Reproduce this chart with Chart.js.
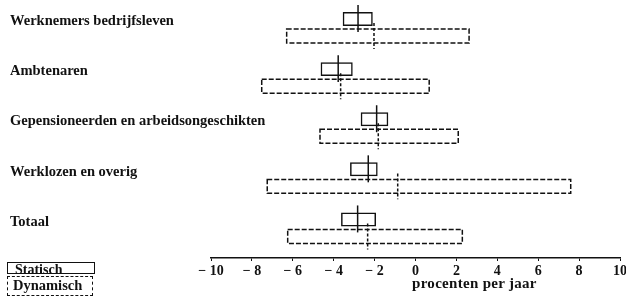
<!DOCTYPE html>
<html lang="nl">
<head>
<meta charset="UTF-8">
<title>Procenten per jaar</title>
<script src="https://cdn.jsdelivr.net/npm/chart.js@4.4.0/dist/chart.umd.min.js"></script>
<style>
  body { margin: 0; background: #fff; font-family: "Liberation Serif", serif; }
  .wrap { position: relative; width: 626px; height: 298px; }
  .box { position: absolute; box-sizing: border-box; border: 1.5px solid #111; }
  .lbl { position: absolute; font-weight: bold; font-size: 14px; line-height: 1; color: #111; white-space: nowrap; }
</style>
</head>
<body>
<div class="wrap">
  <canvas id="myChart" width="626" height="298"></canvas>
  <div class="box" style="left:7px;top:262px;width:88px;height:12px"></div>
  <div class="lbl" style="left:15px;top:263px">Statisch</div>
  <div class="box" style="left:7px;top:276px;width:86px;height:20px;border-style:dashed"></div>
  <div class="lbl" style="left:13px;top:278px;font-size:14.5px">Dynamisch</div>
  <div class="lbl" style="left:412px;top:276px;font-size:15px;letter-spacing:0.3px">procenten per jaar</div>
</div>
<script>
// categories and values (procent per jaar)
var categories = ['Werknemers bedrijfsleven', 'Ambtenaren', 'Gepensioneerden en arbeidsongeschikten', 'Werklozen en overig', 'Totaal'];
var statMin = [-3.56, -4.64, -2.68, -3.20, -3.64];
var statMax = [-2.09, -3.07, -1.33, -1.85, -1.93];
var statMed = [-2.81, -3.78, -1.90, -2.31, -2.83];
var dynMin = [-6.30, -7.52, -4.67, -7.25, -6.25];
var dynMax = [2.62, 0.67, 2.09, 7.59, 2.29];
var dynMed = [-2.03, -3.66, -1.82, -0.87, -2.34];
var xTicks = [-10, -8, -6, -4, -2, 0, 2, 4, 6, 8, 10];

var ink = '#111';
var serif = '"Liberation Serif", "Times New Roman", serif';

// dashed outlines for the dynamic bars and the median strokes
var boxPlugin = {
  id: 'boxPlugin',
  afterDatasetsDraw: function (chart) {
    var ctx = chart.ctx;
    var xs = chart.scales.x;
    var stat = chart.getDatasetMeta(0).data;
    var dyn = chart.getDatasetMeta(1).data;
    ctx.save();
    ctx.strokeStyle = ink;

    ctx.lineWidth = 1.5;
    ctx.setLineDash([5, 2]);
    dyn.forEach(function (bar) {
      var p = bar.getProps(['x', 'y', 'base', 'height'], true);
      ctx.strokeRect(Math.min(p.base, p.x), p.y - p.height / 2, Math.abs(p.x - p.base), p.height);
    });

    // dynamic medians, dashed
    ctx.setLineDash([3, 2]);
    dyn.forEach(function (bar, i) {
      var p = bar.getProps(['y', 'height'], true);
      var mx = xs.getPixelForValue(dynMed[i]);
      ctx.beginPath();
      ctx.moveTo(mx, p.y - p.height / 2 - 6);
      ctx.lineTo(mx, p.y + p.height / 2 + 6);
      ctx.stroke();
    });

    // static medians, solid
    ctx.setLineDash([]);
    ctx.lineWidth = 1.5;
    stat.forEach(function (bar, i) {
      var p = bar.getProps(['y', 'height'], true);
      var mx = xs.getPixelForValue(statMed[i]);
      ctx.beginPath();
      ctx.moveTo(mx, p.y - p.height / 2 - 7);
      ctx.lineTo(mx, p.y + p.height / 2 + 6);
      ctx.stroke();
    });
    ctx.restore();
  }
};

var ctx = document.getElementById('myChart').getContext('2d');
var chart = new Chart(ctx, {
  type: 'bar',
  data: {
    datasets: [
      {
        label: 'Statisch',
        data: categories.map(function (c, i) { return { y: i, x: [statMin[i], statMax[i]] }; }),
        backgroundColor: 'rgba(0,0,0,0)',
        borderColor: ink,
        borderWidth: 1.5,
        borderSkipped: false
      },
      {
        label: 'Dynamisch',
        data: categories.map(function (c, i) { return { y: i, x: [dynMin[i], dynMax[i]] }; }),
        backgroundColor: 'rgba(0,0,0,0)',
        borderWidth: 0
      }
    ]
  },
  options: {
    indexAxis: 'y',
    responsive: false,
    animation: false,
    categoryPercentage: 0.68,
    barPercentage: 0.82,
    layout: { padding: { left: 10, right: 6, top: 0, bottom: 0 } },
    plugins: { legend: { display: false }, tooltip: { enabled: false } },
    scales: {
      x: {
        type: 'linear',
        min: -10,
        max: 10,
        afterBuildTicks: function (s) { s.ticks = xTicks.map(function (v) { return { value: v }; }); },
        afterFit: function (s) { s.height = 40; s.paddingLeft = 0; s.paddingRight = 0; },
        grid: { display: true, drawOnChartArea: false, drawTicks: true, tickLength: 3, color: ink, lineWidth: 1 },
        border: { display: true, color: ink, width: 1.5 },
        ticks: {
          color: ink,
          padding: 2,
          maxRotation: 0,
          autoSkip: false,
          font: { family: serif, size: 14, weight: 'bold' },
          callback: function (v) { return v < 0 ? '\u2212 ' + Math.abs(v) : String(v); }
        }
      },
      y: {
        type: 'linear',
        reverse: true,
        offset: false,
        min: -0.55,
        max: 4.6,
        afterBuildTicks: function (s) { s.ticks = categories.map(function (c, i) { return { value: i }; }); },
        afterFit: function (s) { s.width = 201; s.paddingTop = 0; s.paddingBottom = 0; },
        grid: { display: false, drawTicks: false },
        border: { display: false },
        ticks: {
          mirror: true,
          padding: -201,
          labelOffset: -6,
          color: ink,
          font: { family: serif, size: 14.5, weight: 'bold' },
          callback: function (v) { return categories[v]; }
        }
      }
    }
  },
  plugins: [boxPlugin]
});
</script>
</body>
</html>
